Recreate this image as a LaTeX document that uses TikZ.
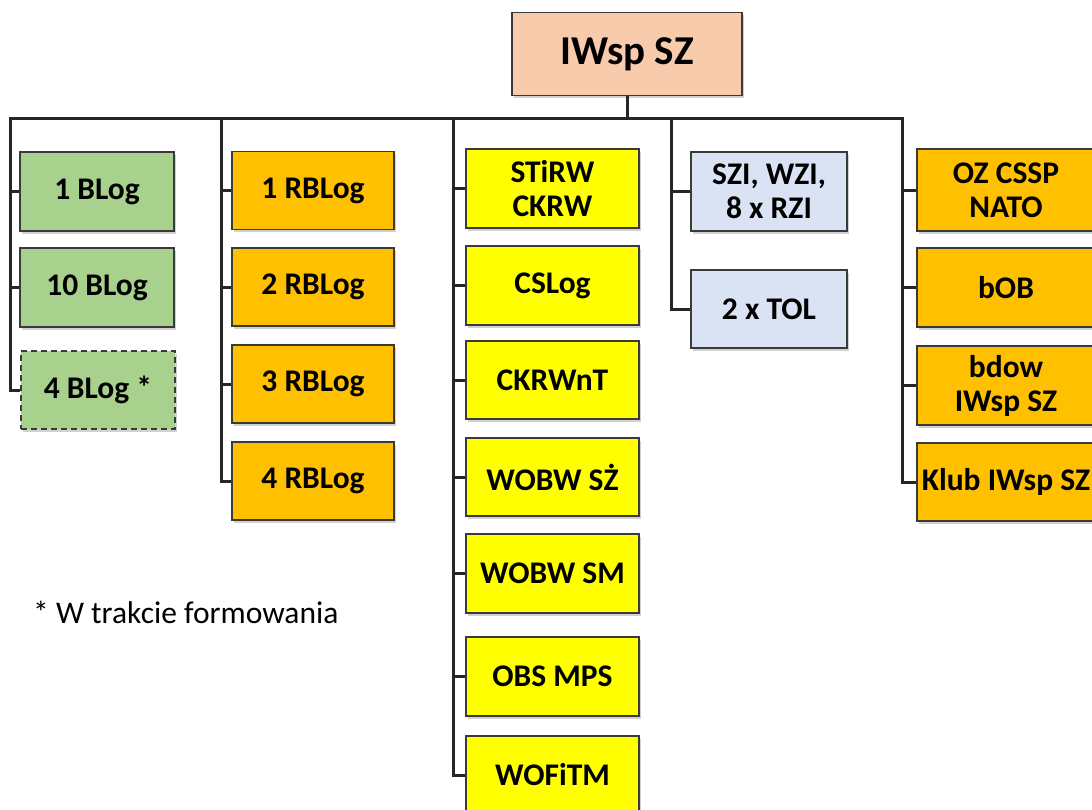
\documentclass[tikz,border=0pt]{standalone}
\usepackage{fontspec}
\setmainfont{Carlito}
\usetikzlibrary{shadows}
\definecolor{peach}{HTML}{F8CBAD}
\definecolor{lgreen}{HTML}{A9D18E}
\definecolor{amber}{HTML}{FFC000}
\definecolor{lyellow}{HTML}{FFFF00}
\definecolor{lblue}{HTML}{DAE3F3}
\definecolor{edge}{HTML}{3A3A3A}
\definecolor{wire}{HTML}{262626}
\begin{document}
\begin{tikzpicture}[x=1pt, y=-1pt,
    box/.style={draw=edge, line width=1.4pt, minimum height=79pt, inner sep=0pt, align=center,
      font=\fontsize{31.5}{34}\selectfont\bfseries,
      drop shadow={shadow xshift=2pt, shadow yshift=-2.5pt, opacity=0.3, fill=black!60}},
    lin/.style={draw=wire, line width=3pt}]
    \useasboundingbox (0,0) rectangle (1092,809);

    % szczyt
    \node[box, fill=peach, minimum width=230pt, minimum height=83pt, font=\fontsize{41}{46}\selectfont\bfseries] (root) at (627,54) {IWsp SZ};

    % kolumna 1
    \node[box, fill=lgreen, minimum width=154pt] (b1) at (97,191.5) {1 BLog};
    \node[box, fill=lgreen, minimum width=154pt] (b2) at (97,287.5) {10 BLog};
    \node[box, fill=lgreen, minimum width=154pt, minimum height=78pt, dash pattern=on 6pt off 4pt] (b3) at (98,390) {4 BLog *};

    % kolumna 2
    \node[box, fill=amber, minimum width=162pt, minimum height=78pt] (r1) at (313,190.5) {1 RBLog};
    \node[box, fill=amber, minimum width=162pt, minimum height=78pt] (r2) at (313,287) {2 RBLog};
    \node[box, fill=amber, minimum width=162pt, minimum height=78pt] (r3) at (313,384) {3 RBLog};
    \node[box, fill=amber, minimum width=162pt, minimum height=78pt] (r4) at (313,481) {4 RBLog};

    % kolumna 3
    \node[box, fill=lyellow, minimum width=173pt] (y1) at (552.5,188.5) {STiRW\\CKRW};
    \node[box, fill=lyellow, minimum width=173pt] (y2) at (552.5,285.5) {CSLog};
    \node[box, fill=lyellow, minimum width=173pt, minimum height=78pt] (y3) at (552.5,380) {CKRWnT};
    \node[box, fill=lyellow, minimum width=173pt, minimum height=78pt] (y4) at (552.5,477) {WOBW SŻ};
    \node[box, fill=lyellow, minimum width=173pt] (y5) at (552.5,573.5) {WOBW SM};
    \node[box, fill=lyellow, minimum width=173pt] (y6) at (552.5,676.5) {OBS MPS};
    \node[box, fill=lyellow, minimum width=173pt, minimum height=78pt] (y7) at (552.5,775) {WOFiTM};

    % kolumna 4
    \node[box, fill=lblue, minimum width=156pt] (z1) at (769,191.5) {SZI, WZI,\\8 x RZI};
    \node[box, fill=lblue, minimum width=156pt, minimum height=78pt] (z2) at (769,309) {2 x TOL};

    % kolumna 5
    \node[box, fill=amber, minimum width=178pt, minimum height=82pt] (o1) at (1006,190) {OZ CSSP\\NATO};
    \node[box, fill=amber, minimum width=178pt] (o2) at (1006,287.5) {bOB};
    \node[box, fill=amber, minimum width=178pt] (o3) at (1006,385.5) {bdow\\IWsp SZ};
    \node[box, fill=amber, minimum width=178pt, minimum height=78pt] (o4) at (1006,482) {Klub IWsp SZ};

    \node[anchor=west, inner sep=0pt, font=\fontsize{31.5}{36}\selectfont] (note) at (33,612) {* W trakcie formowania};

    % linie
    \coordinate (k1) at (10,118);
    \coordinate (k2) at (221,118);
    \coordinate (k3) at (453,118);
    \coordinate (k4) at (671,118);
    \coordinate (k5) at (902,118);
    \draw[lin] (root.south) -- (root.south |- k1);
    \draw[lin] (b3.west) -| (k1) -- (k5) |- (o4.west);
    \draw[lin] (k2) |- (r4.west);
    \draw[lin] (k3) |- (y7.west);
    \draw[lin] (k4) |- (z2.west);
    \foreach \n in {b1,b2} \draw[lin] (k1 |- \n.west) -- (\n.west);
    \foreach \n in {r1,r2,r3} \draw[lin] (k2 |- \n.west) -- (\n.west);
    \foreach \n in {y1,y2,y3,y4,y5,y6} \draw[lin] (k3 |- \n.west) -- (\n.west);
    \draw[lin] (k4 |- z1.west) -- (z1.west);
    \foreach \n in {o1,o2,o3} \draw[lin] (k5 |- \n.west) -- (\n.west);
\end{tikzpicture}
\end{document}
